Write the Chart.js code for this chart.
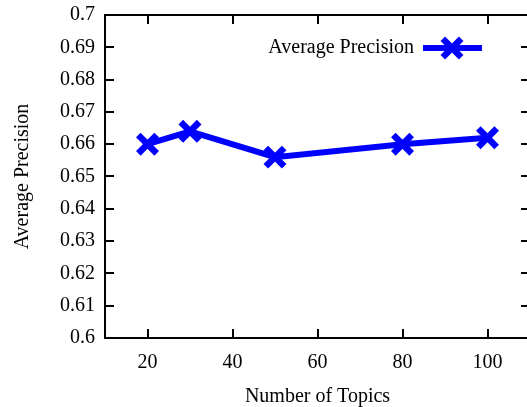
<!DOCTYPE html>
<html>
<head>
<meta charset="utf-8">
<script src="https://cdn.jsdelivr.net/npm/chart.js@4/dist/chart.umd.min.js"></script>
<style>
html,body{margin:0;padding:0;background:#fff;overflow:hidden;}
</style>
</head>
<body>
<canvas id="c" width="527" height="407" style="width:527px;height:407px;display:block"></canvas>
<script>
const topics = [20, 30, 50, 80, 100];
const avgPrecision = [0.660, 0.664, 0.656, 0.660, 0.662];
const xTicks = [20, 40, 60, 80, 100];
const xTickLabels = ['20', '40', '60', '80', '100'];
const yTicks = [0.6, 0.61, 0.62, 0.63, 0.64, 0.65, 0.66, 0.67, 0.68, 0.69, 0.7];
const yTickLabels = ['0.6', '0.61', '0.62', '0.63', '0.64', '0.65', '0.66', '0.67', '0.68', '0.69', '0.7'];
const seriesName = 'Average Precision';
const xTitle = 'Number of Topics';
const yTitle = 'Average Precision';

const FONT = {family: '"Liberation Serif", "Times New Roman", serif', size: 20};
const BLUE = '#0000ff';
// plot frame box (the right edge sits just outside the visible canvas, as in the reference)
const FRAME = {left: 105, right: 530, top: 15, bottom: 338};

const fixedFrame = {
  id: 'fixedFrame',
  afterLayout(chart) {
    const a = chart.chartArea, x = chart.scales.x, y = chart.scales.y;
    const H = chart.height;
    a.left = FRAME.left; a.right = FRAME.right; a.top = FRAME.top; a.bottom = FRAME.bottom;
    a.width = a.right - a.left; a.height = a.bottom - a.top;
    x.left = FRAME.left; x.right = FRAME.right; x.width = x.right - x.left;
    x.top = FRAME.bottom; x.bottom = H; x.height = H - FRAME.bottom;
    y.left = 0; y.right = FRAME.left; y.width = FRAME.left;
    y.top = FRAME.top; y.bottom = FRAME.bottom; y.height = FRAME.bottom - FRAME.top;
    x.configure(); y.configure();
  }
};

const frameTicks = {
  id: 'frameTicks',
  afterDraw(chart) {
    const {ctx, chartArea: a, scales: {x, y}} = chart;
    const L = 9;
    ctx.save();
    ctx.strokeStyle = '#000';
    ctx.lineWidth = 2;
    ctx.lineCap = 'square';
    ctx.beginPath();
    ctx.moveTo(a.right, a.top); ctx.lineTo(a.left, a.top);
    ctx.lineTo(a.left, a.bottom); ctx.lineTo(a.right, a.bottom);
    ctx.stroke();
    ctx.lineCap = 'butt';
    ctx.beginPath();
    x.ticks.forEach(t => {
      const px = Math.round(x.getPixelForValue(t.value));
      ctx.moveTo(px, a.bottom); ctx.lineTo(px, a.bottom - L);
      ctx.moveTo(px, a.top); ctx.lineTo(px, a.top + L);
    });
    y.ticks.forEach(t => {
      const py = Math.round(y.getPixelForValue(t.value));
      ctx.moveTo(a.left, py); ctx.lineTo(a.left + L, py);
      ctx.moveTo(a.right, py); ctx.lineTo(a.right - L, py);
    });
    ctx.stroke();
    // legend
    const ds = chart.data.datasets[0];
    const ly = 48;
    ctx.fillStyle = '#000';
    ctx.font = FONT.size + 'px ' + FONT.family;
    ctx.textAlign = 'right';
    ctx.textBaseline = 'middle';
    ctx.fillText(ds.label, 414, ly);
    ctx.strokeStyle = ds.borderColor;
    ctx.lineWidth = ds.borderWidth;
    ctx.beginPath();
    ctx.moveTo(423, ly); ctx.lineTo(482, ly);
    ctx.stroke();
    ctx.lineWidth = ds.pointBorderWidth;
    Chart.helpers.drawPoint(ctx, {pointStyle: ds.pointStyle, radius: ds.pointRadius, rotation: 0, borderWidth: ds.pointBorderWidth}, 452, ly);
    ctx.restore();
  }
};

new Chart(document.getElementById('c'), {
  type: 'line',
  data: {
    datasets: [{
      label: seriesName,
      data: topics.map((t, i) => ({x: t, y: avgPrecision[i]})),
      borderColor: BLUE,
      backgroundColor: BLUE,
      borderWidth: 6,
      pointStyle: 'crossRot',
      pointRadius: 13,
      pointHoverRadius: 13,
      pointBorderWidth: 6.5,
      pointBorderColor: BLUE,
      fill: false,
      tension: 0
    }]
  },
  options: {
    responsive: false,
    animation: false,
    events: [],
    layout: {padding: {top: 15, right: 0, left: 0, bottom: 0}},
    plugins: {legend: {display: false}, tooltip: {enabled: false}},
    scales: {
      x: {
        type: 'linear', min: 10, max: 110,
        afterBuildTicks: s => { s.ticks = xTicks.map(v => ({value: v})); },
        afterFit: s => { s.height = 69; },
        grid: {display: false, drawTicks: false},
        border: {display: false},
        ticks: {
          font: FONT, color: '#000', padding: 13, maxRotation: 0,
          callback: (v) => xTickLabels[xTicks.indexOf(v)]
        },
        title: {display: true, text: xTitle, font: FONT, color: '#000', padding: {top: 0, bottom: -2}}
      },
      y: {
        type: 'linear', min: 0.6, max: 0.7,
        afterBuildTicks: s => { s.ticks = yTicks.map(v => ({value: v})); },
        afterFit: s => { s.width = 105; },
        grid: {display: false, drawTicks: false},
        border: {display: false},
        ticks: {
          font: FONT, color: '#000', padding: 10,
          callback: (v) => { const i = yTicks.findIndex(t => Math.abs(t - v) < 1e-9); return i >= 0 ? yTickLabels[i] : ''; }
        },
        title: {display: true, text: yTitle, font: FONT, color: '#000', padding: {top: 11, bottom: 0}}
      }
    }
  },
  plugins: [fixedFrame, frameTicks]
});
</script>
</body>
</html>
